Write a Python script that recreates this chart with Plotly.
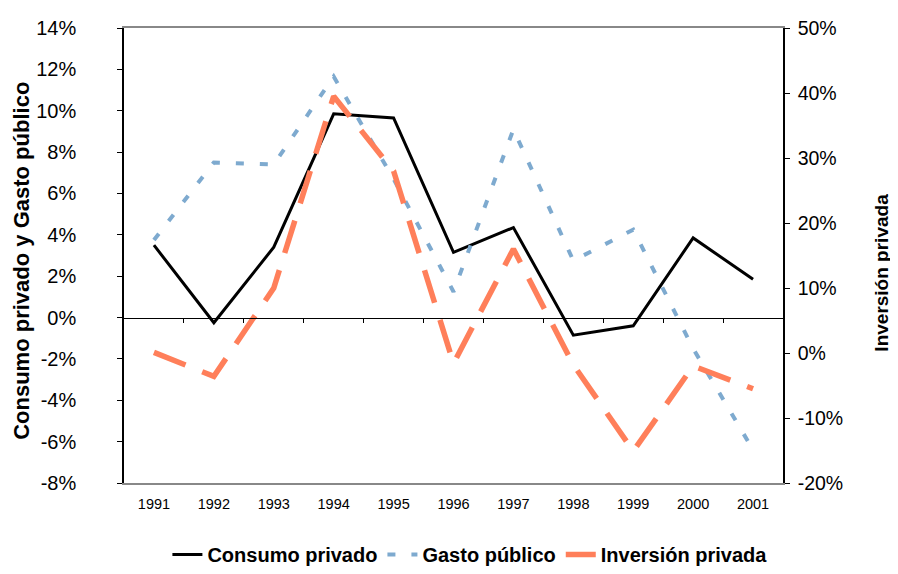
import plotly.graph_objects as go

years = ["1991", "1992", "1993", "1994", "1995", "1996", "1997", "1998", "1999", "2000", "2001"]
consumo_privado = [3.5, -0.25, 3.4, 9.85, 9.65, 3.15, 4.35, -0.85, -0.4, 3.85, 1.85]
gasto_publico = [3.75, 7.5, 7.4, 11.65, 6.7, 1.25, 9.1, 2.75, 4.25, -1.5, -6.4]
inversion_privada = [0.1, -3.6, 10.0, 39.5, 28.0, -1.6, 16.0, -1.8, -15.1, -2.0, -5.5]

left_ticks = list(range(-8, 15, 2))
right_ticks = list(range(-20, 51, 10))

fig = go.Figure()
fig.add_trace(go.Scatter(x=years, y=consumo_privado, name="Consumo privado", mode="lines",
                         line=dict(color="black", width=3)))
fig.add_trace(go.Scatter(x=years, y=gasto_publico, name="Gasto público", mode="lines",
                         line=dict(color="#7EAACF", width=4, dash="8px,16px")))
fig.add_trace(go.Scatter(x=years, y=inversion_privada, name="Inversión privada", mode="lines",
                         yaxis="y2", line=dict(color="#FF7F5A", width=5.5, dash="34px,18px")))

ymin, ymax = -8, 14
zero_pos = (0 - ymin) / (ymax - ymin)
font = "Liberation Sans, Arial, sans-serif"

# the page body has an 8px margin, so the figure is drawn 8px smaller
W, H = 890, 566
fig.update_layout(
    width=W, height=H,
    margin=dict(l=116, r=115, t=20, b=91),
    paper_bgcolor="white", plot_bgcolor="white",
    font=dict(family=font, color="black"),
    showlegend=True,
    legend=dict(orientation="h", xref="container", yref="container",
                x=0.519, xanchor="center", y=-0.012, yanchor="bottom",
                font=dict(size=20, family=font, weight="bold"), tracegroupgap=0,
                itemwidth=30, bgcolor="rgba(0,0,0,0)"),
    xaxis=dict(type="category", range=[-0.5, 10.5], showgrid=False, ticks="",
               tickfont=dict(size=14.5), showline=True, linecolor="#888888", linewidth=2,
               mirror=True, zeroline=False, automargin=False, ticklabelstandoff=7),
    xaxis2=dict(overlaying="x", anchor="free", position=zero_pos, range=[-0.5, 10.5],
                tickmode="array", tickvals=[i + 0.5 for i in range(10)], ticks="outside",
                ticklen=4, tickcolor="black", showticklabels=False, showline=True,
                linecolor="black", linewidth=1, showgrid=False, zeroline=False,
                automargin=False),
    yaxis=dict(range=[ymin, ymax], tickvals=left_ticks, ticktext=[f"{v}%" for v in left_ticks],
               showgrid=False, zeroline=False, showline=True, linecolor="black", linewidth=1.5,
               ticks="outside", ticklen=5, tickcolor="black", tickfont=dict(size=20),
               ticklabelstandoff=37, automargin=False),
    yaxis2=dict(range=[-20, 50], tickvals=right_ticks, ticktext=[f"{v}%" for v in right_ticks],
                overlaying="y", side="right", showgrid=False, zeroline=False, showline=True,
                linecolor="black", linewidth=1.5, ticks="outside", ticklen=5, tickcolor="black",
                tickfont=dict(size=19.5), ticklabelstandoff=4, automargin=False),
    annotations=[
        dict(text="<b>Consumo privado y Gasto público</b>", textangle=-90,
             xref="paper", yref="paper", x=-0.155, y=0.488, xanchor="center", yanchor="middle",
             showarrow=False, font=dict(size=22)),
        dict(text="<b>Inversión privada</b>", textangle=-90,
             xref="paper", yref="paper", x=1.15, y=0.462, xanchor="center", yanchor="middle",
             showarrow=False, font=dict(size=19)),
    ],
)

# helper trace to activate the zero-line category axis
fig.add_trace(go.Scatter(x=[None], y=[None], xaxis="x2", showlegend=False, hoverinfo="skip"))

fig.write_html("out.html")
